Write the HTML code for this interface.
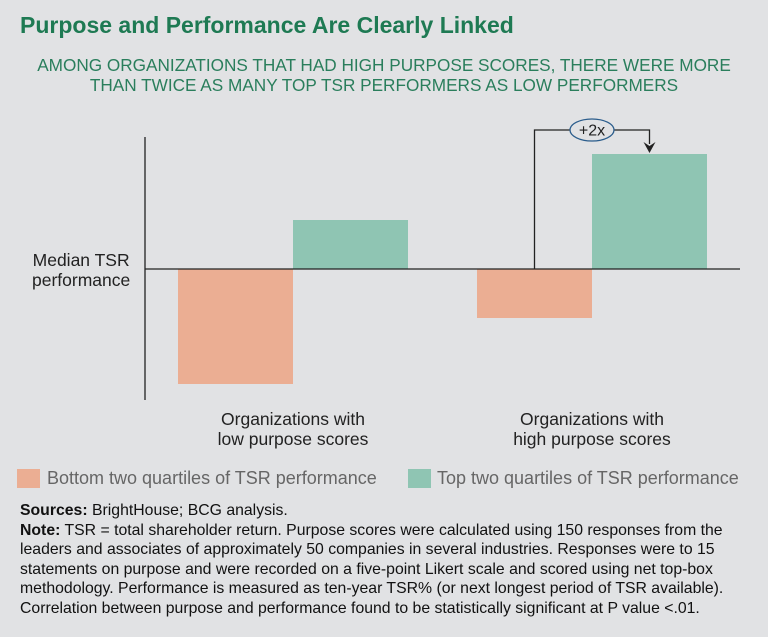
<!DOCTYPE html>
<html><head><meta charset="utf-8"><style>
body{margin:0;background:#e1e2e4;width:768px;height:637px;overflow:hidden;font-family:"Liberation Sans",sans-serif;position:relative}
.t{position:absolute;white-space:nowrap}
</style></head><body>
<div class="t" style="left:20px;top:12px;font-size:23px;font-weight:bold;color:#1e7a53">Purpose and Performance Are Clearly Linked</div>
<div class="t" style="left:0;width:768px;top:55px;font-size:17.2px;line-height:20px;color:#2a7e5c;text-align:center">AMONG ORGANIZATIONS THAT HAD HIGH PURPOSE SCORES, THERE WERE MORE<br>THAN TWICE AS MANY TOP TSR PERFORMERS AS LOW PERFORMERS</div>
<svg id="c" width="768" height="637" style="position:absolute;left:0;top:0"></svg>
<div class="t" style="left:32px;top:250px;font-size:17.5px;line-height:20px;color:#222;text-align:center">Median TSR<br>performance</div>
<div class="t" style="left:193px;width:200px;top:409px;font-size:17.5px;line-height:20px;color:#222;text-align:center">Organizations with<br>low purpose scores</div>
<div class="t" style="left:492px;width:200px;top:409px;font-size:17.5px;line-height:20px;color:#222;text-align:center">Organizations with<br>high purpose scores</div>
<div class="t" style="left:17px;top:468px;font-size:18px;color:#666"><span style="display:inline-block;width:23px;height:19px;background:#ebae93;vertical-align:-4px;margin-right:7px"></span>Bottom two quartiles of TSR performance</div>
<div class="t" style="left:408px;top:468px;font-size:18px;color:#666"><span style="display:inline-block;width:23px;height:19px;background:#8fc5b3;vertical-align:-4px;margin-right:6px"></span>Top two quartiles of TSR performance</div>
<div class="t" style="left:20px;top:501px;font-size:15.8px;line-height:19.6px;color:#111"><b>Sources:</b> BrightHouse; BCG analysis.<br><b>Note:</b> TSR = total shareholder return. Purpose scores were calculated using 150 responses from the<br>leaders and associates of approximately 50 companies in several industries. Responses were to 15<br>statements on purpose and were recorded on a five-point Likert scale and scored using net top-box<br>methodology. Performance is measured as ten-year TSR% (or next longest period of TSR available).<br>Correlation between purpose and performance found to be statistically significant at P value &lt;.01.</div>
<script>
const categories=["Low purpose scores","High purpose scores"];
const bottomValues=[-115,-49];
const topValues=[49,115];
const svg=document.getElementById('c');
const NS='http://www.w3.org/2000/svg';
const y0=269, ppu=1;
const yS=v=>y0-v*ppu;
const groupX=[178,477], bw=115;
function mk(t,a){const e=document.createElementNS(NS,t);for(const k in a)e.setAttribute(k,a[k]);svg.appendChild(e);return e;}
categories.forEach((c,i)=>{
  const b=bottomValues[i], t=topValues[i];
  let r=mk('rect',{x:groupX[i],y:Math.min(yS(b),y0),width:bw,height:Math.abs(yS(b)-y0),fill:'#ebae93'});
  
  
  r=mk('rect',{x:groupX[i]+bw,y:Math.min(yS(t),y0),width:bw,height:Math.abs(yS(t)-y0),fill:'#8fc5b3'});
  
  
});
let l=mk('line',{x1:145,y1:137,x2:145,y2:400,stroke:'#222','stroke-width':1.3});


l=mk('line',{x1:145,y1:y0,x2:740,y2:y0,stroke:'#222','stroke-width':1.3});


const cx1=groupX[1]+bw/2, cx2=groupX[1]+bw+bw/2, cy=130;
const p=mk('path',{d:`M${cx1} ${y0} V${cy} H${cx2} V${yS(topValues[1])-10}`,fill:'none',stroke:'#222','stroke-width':1.3});


const ar=mk('path',{d:`M${cx2-6} ${yS(topValues[1])-12} L${cx2} ${yS(topValues[1])-1} L${cx2+6} ${yS(topValues[1])-12} L${cx2} ${yS(topValues[1])-8}Z`,fill:'#222'});


const el=mk('ellipse',{cx:(cx1+cx2)/2,cy:cy,rx:22,ry:11,fill:'#e1e2e4',stroke:'#2b5d8c','stroke-width':1.3});


const tx=mk('text',{x:(cx1+cx2)/2,y:cy+5.5,'text-anchor':'middle','font-size':16,fill:'#222','font-family':'Liberation Sans, sans-serif'});
tx.textContent='+2x';


</script>
</body></html>
